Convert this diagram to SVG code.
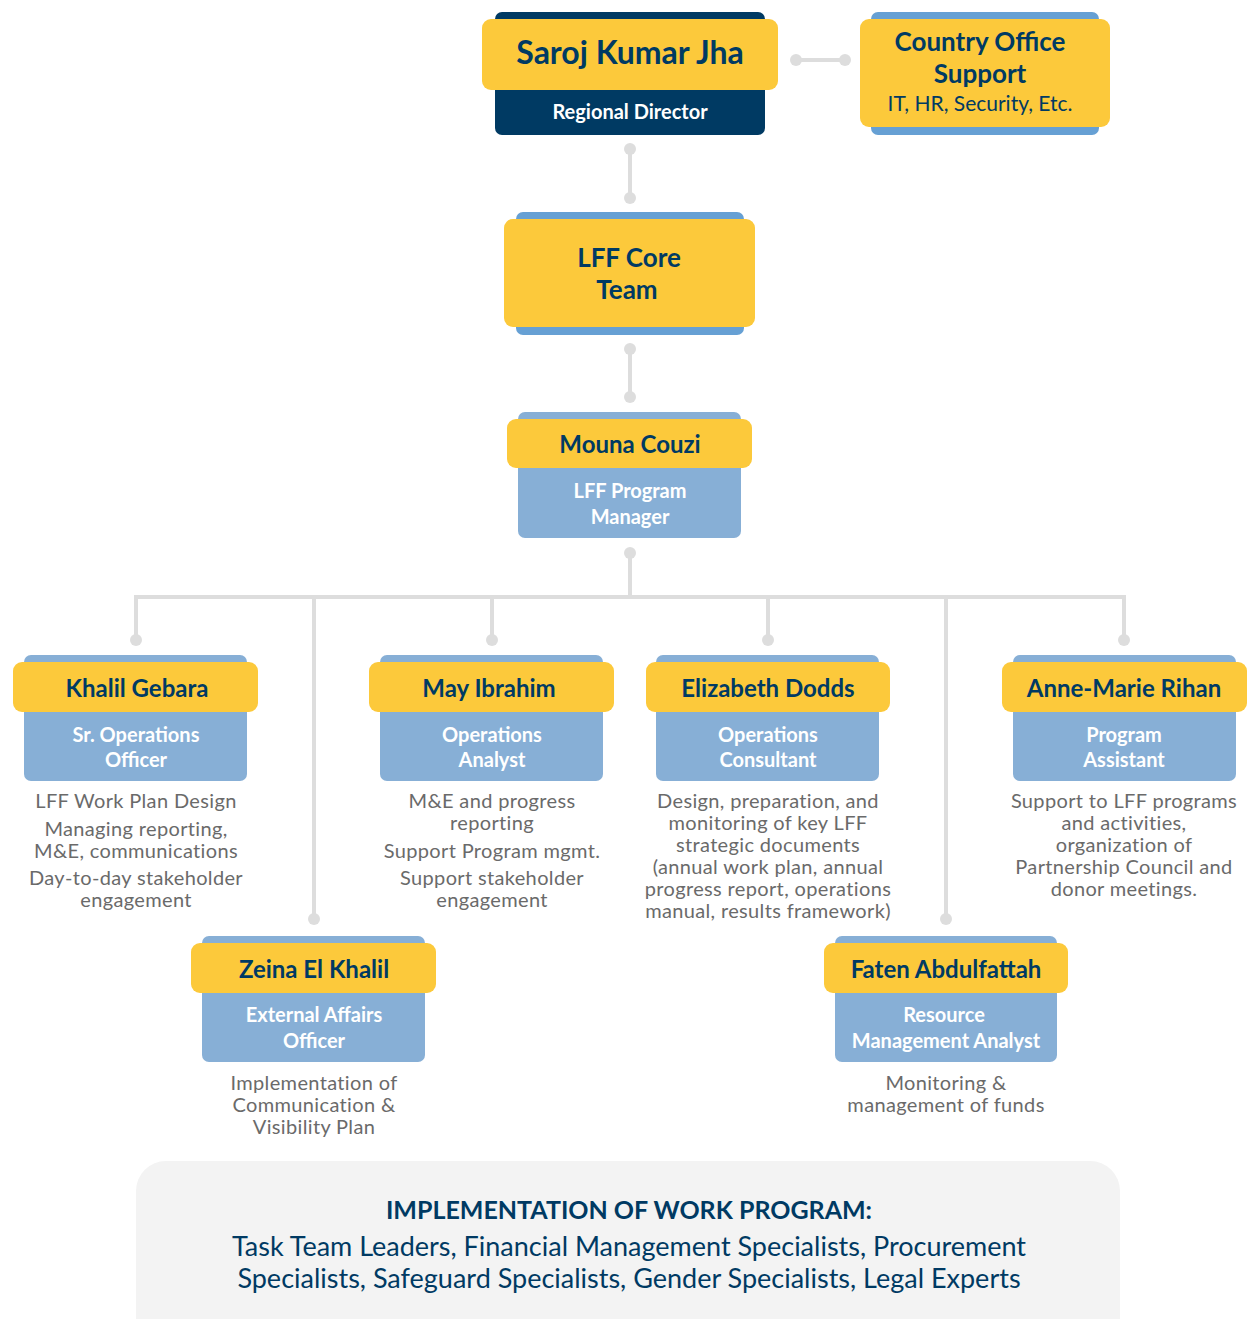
<svg xmlns="http://www.w3.org/2000/svg" width="1247" height="1319" viewBox="0 0 1247 1319">
<style>
.yl{fill:#fcc93b}
.bb{fill:#66a0d4}
.lb{fill:#87afd6}
.nv{fill:#003a63}
.nm{font-family:Lato,"Noto Sans",sans-serif;font-weight:700;fill:#003a63;text-anchor:middle}
.tt{font-family:Lato,"Noto Sans",sans-serif;font-weight:700;fill:#ffffff;text-anchor:middle;font-size:20px}
.ds{font-family:Lato,"Noto Sans",sans-serif;fill:#6a6a6a;text-anchor:middle;font-size:20px;letter-spacing:0.35px}
.ln{stroke:#dddddd;stroke-width:4;fill:none}
.dt{fill:#dddddd}
</style>
<rect width="1247" height="1319" fill="#ffffff"/>
<g id="connectors">
<line class="ln" x1="796" y1="60" x2="845" y2="60"/>
<circle class="dt" cx="796" cy="60" r="6"/><circle class="dt" cx="845" cy="60" r="6"/>
<line class="ln" x1="630" y1="149" x2="630" y2="198"/>
<circle class="dt" cx="630" cy="149" r="6"/><circle class="dt" cx="630" cy="198" r="6"/>
<line class="ln" x1="630" y1="349" x2="630" y2="397"/>
<circle class="dt" cx="630" cy="349" r="6"/><circle class="dt" cx="630" cy="397" r="6"/>
<path class="ln" d="M630 553 V597 M136 640 V597 H1124 V640 M314 597 V919 M492 597 V640 M768 597 V640 M946 597 V919"/>
<circle class="dt" cx="630" cy="553" r="6"/>
<circle class="dt" cx="136" cy="640" r="6"/><circle class="dt" cx="492" cy="640" r="6"/><circle class="dt" cx="768" cy="640" r="6"/><circle class="dt" cx="1124" cy="640" r="6"/>
<circle class="dt" cx="314" cy="919" r="6"/><circle class="dt" cx="946" cy="919" r="6"/>
</g>
<g id="saroj">
<rect class="nv" x="495" y="12" width="270" height="123" rx="7"/>
<rect class="yl" x="482" y="19" width="296" height="71" rx="9"/>
<text class="nm" x="630" y="64" font-size="32">Saroj Kumar Jha</text>
<text class="tt" x="630" y="119" font-size="21">Regional Director</text>
</g>
<g id="country-office">
<rect class="bb" x="871" y="12" width="228" height="123" rx="7"/>
<rect class="yl" x="860" y="19" width="250" height="108" rx="9"/>
<text class="nm" x="980" y="51" font-size="26">Country Office</text>
<text class="nm" x="980" y="83" font-size="26">Support</text>
<text class="nm" x="980" y="111" font-size="21" style="font-weight:400">IT, HR, Security, Etc.</text>
</g>
<g id="core-team">
<rect class="bb" x="516" y="212" width="228" height="123" rx="7"/>
<rect class="yl" x="504" y="219" width="251" height="108" rx="9"/>
<text class="nm" x="629" y="267" font-size="26">LFF Core</text>
<text class="nm" x="627" y="299" font-size="26">Team</text>
</g>
<g id="mouna">
<rect class="lb" x="518" y="412" width="223" height="126" rx="7"/>
<rect class="yl" x="507" y="419" width="245" height="49" rx="9"/>
<text class="nm" x="630" y="453" font-size="24">Mouna Couzi</text>
<text class="tt" x="630" y="498">LFF Program</text>
<text class="tt" x="630" y="524">Manager</text>
</g>
<g id="khalil">
<rect class="lb" x="24" y="655" width="223" height="126" rx="7"/>
<rect class="yl" x="13" y="662" width="245" height="50" rx="9"/>
<text class="nm" x="137" y="697" font-size="24">Khalil Gebara</text>
<text class="tt" x="136" y="742">Sr. Operations</text>
<text class="tt" x="136" y="767">Officer</text>
<text class="ds" x="136" y="808">LFF Work Plan Design</text>
<text class="ds" x="136" y="836">Managing reporting,</text>
<text class="ds" x="136" y="858">M&amp;E, communications</text>
<text class="ds" x="136" y="885">Day-to-day stakeholder</text>
<text class="ds" x="136" y="907">engagement</text>
</g>
<g id="may">
<rect class="lb" x="380" y="655" width="223" height="126" rx="7"/>
<rect class="yl" x="369" y="662" width="245" height="50" rx="9"/>
<text class="nm" x="489" y="697" font-size="24">May Ibrahim</text>
<text class="tt" x="492" y="742">Operations</text>
<text class="tt" x="492" y="767">Analyst</text>
<text class="ds" x="492" y="808">M&amp;E and progress</text>
<text class="ds" x="492" y="830">reporting</text>
<text class="ds" x="492" y="858">Support Program mgmt.</text>
<text class="ds" x="492" y="885">Support stakeholder</text>
<text class="ds" x="492" y="907">engagement</text>
</g>
<g id="elizabeth">
<rect class="lb" x="656" y="655" width="223" height="126" rx="7"/>
<rect class="yl" x="646" y="662" width="244" height="50" rx="9"/>
<text class="nm" x="768" y="697" font-size="24">Elizabeth Dodds</text>
<text class="tt" x="768" y="742">Operations</text>
<text class="tt" x="768" y="767">Consultant</text>
<text class="ds" x="768" y="808">Design, preparation, and</text>
<text class="ds" x="768" y="830">monitoring of key LFF</text>
<text class="ds" x="768" y="852">strategic documents</text>
<text class="ds" x="768" y="874">(annual work plan, annual</text>
<text class="ds" x="768" y="896">progress report, operations</text>
<text class="ds" x="768" y="918">manual, results framework)</text>
</g>
<g id="anne-marie">
<rect class="lb" x="1013" y="655" width="223" height="126" rx="7"/>
<rect class="yl" x="1002" y="662" width="245" height="50" rx="9"/>
<text class="nm" x="1124" y="697" font-size="24">Anne-Marie Rihan</text>
<text class="tt" x="1124" y="742">Program</text>
<text class="tt" x="1124" y="767">Assistant</text>
<text class="ds" x="1124" y="808">Support to LFF programs</text>
<text class="ds" x="1124" y="830">and activities,</text>
<text class="ds" x="1124" y="852">organization of</text>
<text class="ds" x="1124" y="874">Partnership Council and</text>
<text class="ds" x="1124" y="896">donor meetings.</text>
</g>
<g id="zeina">
<rect class="lb" x="202" y="936" width="223" height="126" rx="7"/>
<rect class="yl" x="191" y="943" width="245" height="50" rx="9"/>
<text class="nm" x="314" y="978" font-size="24">Zeina El Khalil</text>
<text class="tt" x="314" y="1022">External Affairs</text>
<text class="tt" x="314" y="1048">Officer</text>
<text class="ds" x="314" y="1090">Implementation of</text>
<text class="ds" x="314" y="1112">Communication &amp;</text>
<text class="ds" x="314" y="1134">Visibility Plan</text>
</g>
<g id="faten">
<rect class="lb" x="835" y="936" width="222" height="126" rx="7"/>
<rect class="yl" x="824" y="943" width="244" height="50" rx="9"/>
<text class="nm" x="946" y="978" font-size="24">Faten Abdulfattah</text>
<text class="tt" x="944" y="1022">Resource</text>
<text class="tt" x="946" y="1048">Management Analyst</text>
<text class="ds" x="946" y="1090">Monitoring &amp;</text>
<text class="ds" x="946" y="1112">management of funds</text>
</g>
<g id="work-program">
<rect x="136" y="1161" width="984" height="190" rx="30" fill="#f3f3f3"/>
<text class="nm" x="629" y="1219" font-size="25">IMPLEMENTATION OF WORK PROGRAM:</text>
<text class="nm" x="629" y="1256" font-size="27" style="font-weight:400">Task Team Leaders, Financial Management Specialists, Procurement</text>
<text class="nm" x="629" y="1288" font-size="27" style="font-weight:400">Specialists, Safeguard Specialists, Gender Specialists, Legal Experts</text>
</g>
</svg>
